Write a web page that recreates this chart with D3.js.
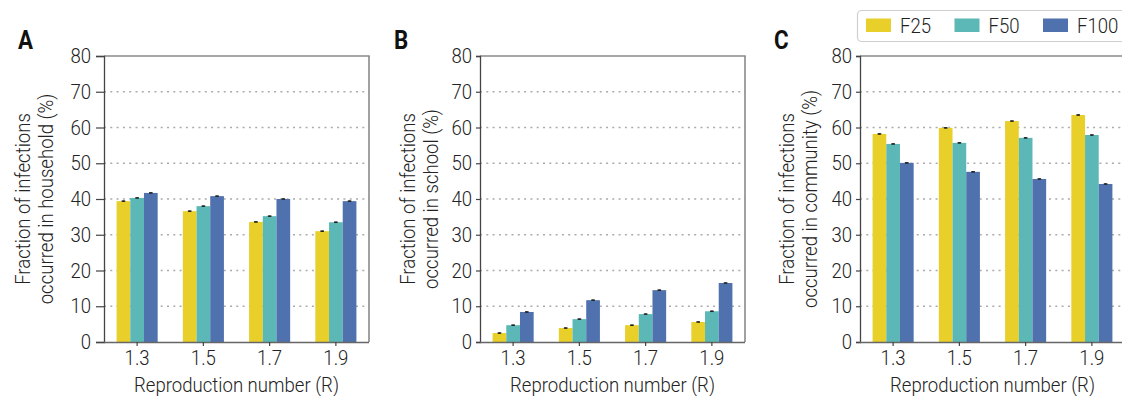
<!DOCTYPE html>
<html>
<head>
<meta charset="utf-8">
<script src="https://cdn.jsdelivr.net/npm/d3@7/dist/d3.min.js"></script>
<style>
  html, body { margin: 0; padding: 0; background: #fff; }
  svg { display: block; }
  text { font-family: Roboto, "Liberation Sans Narrow", sans-serif; font-weight: 300; fill: #222; }
  .panel-letter { font-weight: 700; font-size: 26px; fill: #111; }
  /* narrow the glyphs horizontally for a condensed look */
  .y-ticks .tick text { transform-box: fill-box; transform-origin: right center; transform: scaleX(0.885); }
  .x-ticks .tick text { transform-box: fill-box; transform-origin: center; transform: scaleX(0.885); }
</style>
</head>
<body>
<svg id="chart" width="1122" height="396"></svg>
<script>
// Reproduction numbers on the x axis and the three scenarios
const categories = ["1.3", "1.5", "1.7", "1.9"];
const seriesNames = ["F25", "F50", "F100"];
const yTicks = [0, 10, 20, 30, 40, 50, 60, 70, 80];

// Share of infections by setting (%), one array per scenario
const householdF25 = [39.4, 36.6, 33.6, 31.0];
const householdF50 = [40.3, 38.0, 35.2, 33.5];
const householdF100 = [41.7, 40.8, 40.0, 39.4];

const schoolF25 = [2.5, 3.9, 4.7, 5.6];
const schoolF50 = [4.7, 6.4, 7.8, 8.6];
const schoolF100 = [8.4, 11.7, 14.5, 16.5];

const communityF25 = [58.2, 59.9, 61.8, 63.5];
const communityF50 = [55.4, 55.7, 57.1, 57.9];
const communityF100 = [50.1, 47.6, 45.6, 44.2];

// Half-width of the error bars (%)
const errorHalf = [0.15, 0.15, 0.15];

const colors = { F25: "#E9CF2A", F50: "#5CB8B6", F100: "#4F71AD" };

const squeeze = 0.885;   // horizontal glyph scale
const fontPx = "21px";

const panels = [
  { letter: "A", setting: "household", series: [householdF25, householdF50, householdF100],
    left: 104, tickSize: 8, tickPad: 5, titleOffset: 51 },
  { letter: "B", setting: "school", series: [schoolF25, schoolF50, schoolF100],
    left: 480, tickSize: 4, tickPad: 4, titleOffset: 42 },
  { letter: "C", setting: "community", series: [communityF25, communityF50, communityF100],
    left: 860, tickSize: 4, tickPad: 4, titleOffset: 43 }
];

const svg = d3.select("#chart");
const plotTop = 56, plotBottom = 342, plotW = 265;

const y = d3.scaleLinear().domain([0, 80]).range([plotBottom, plotTop]);

panels.forEach(p => {
  const g = svg.append("g");
  const x0 = d3.scaleBand().domain(categories)
    .range([p.left, p.left + plotW]).paddingInner(0.38).paddingOuter(0.19);
  const x1 = d3.scaleBand().domain(seriesNames).range([0, x0.bandwidth()]);

  // dotted horizontal grid
  g.append("g").selectAll("line")
    .data(yTicks.filter(t => t > 0 && t < 80))
    .join("line")
    .attr("x1", p.left).attr("x2", p.left + plotW)
    .attr("y1", d => y(d)).attr("y2", d => y(d))
    .attr("stroke", "#ababab").attr("stroke-width", 1.4)
    .attr("stroke-dasharray", "2,4.3");

  // bars
  const rows = categories.map((c, i) => ({
    cat: c,
    vals: seriesNames.map((s, k) => ({ key: s, value: p.series[k][i], err: errorHalf[k] }))
  }));
  const grp = g.append("g").selectAll("g").data(rows).join("g")
    .attr("transform", d => `translate(${x0(d.cat)},0)`);
  grp.selectAll("rect").data(d => d.vals).join("rect")
    .attr("x", d => x1(d.key)).attr("width", x1.bandwidth())
    .attr("y", d => y(d.value)).attr("height", d => y(0) - y(d.value))
    .attr("fill", d => colors[d.key]);

  // error bars
  const eb = grp.selectAll("g.err").data(d => d.vals).join("g").attr("class", "err");
  eb.append("line")
    .attr("x1", d => x1(d.key) + x1.bandwidth() / 2).attr("x2", d => x1(d.key) + x1.bandwidth() / 2)
    .attr("y1", d => y(d.value - d.err)).attr("y2", d => y(d.value + d.err))
    .attr("stroke", "#222").attr("stroke-width", 1);
  eb.append("line")
    .attr("x1", d => x1(d.key) + x1.bandwidth() / 2 - 1.8).attr("x2", d => x1(d.key) + x1.bandwidth() / 2 + 1.8)
    .attr("y1", d => y(d.value)).attr("y2", d => y(d.value))
    .attr("stroke", "#222").attr("stroke-width", 1.6);

  // frame
  g.append("line").attr("x1", p.left).attr("x2", p.left + plotW + 0.8).attr("y1", plotTop).attr("y2", plotTop)
    .attr("stroke", "#8a8a8a").attr("stroke-width", 1.6);
  g.append("line").attr("x1", p.left + plotW).attr("x2", p.left + plotW).attr("y1", plotTop).attr("y2", plotBottom)
    .attr("stroke", "#8a8a8a").attr("stroke-width", 1.6);

  // y axis
  const ya = g.append("g").attr("class", "y-ticks").attr("transform", `translate(${p.left},0)`)
    .call(d3.axisLeft(y).tickValues(yTicks).tickSize(p.tickSize).tickPadding(p.tickPad));
  ya.select(".domain").attr("stroke", "#444").attr("stroke-width", 1.3);
  ya.selectAll(".tick line").attr("stroke", "#444").attr("stroke-width", 1.2);
  ya.selectAll(".tick text").style("font-size", fontPx).attr("fill", "#222");

  // x axis
  const xa = g.append("g").attr("class", "x-ticks").attr("transform", `translate(0,${plotBottom})`)
    .call(d3.axisBottom(x0).tickSize(4).tickPadding(4).tickSizeOuter(0));
  xa.select(".domain").attr("stroke", "#666").attr("stroke-width", 1.5)
    .attr("d", `M${p.left},0.5H${p.left + plotW}`);
  xa.selectAll(".tick line").attr("stroke", "#444").attr("stroke-width", 1.2);
  xa.selectAll(".tick text").style("font-size", fontPx).attr("fill", "#222");

  // axis titles
  g.append("text")
    .attr("transform", `translate(${p.left + plotW / 2},392) scale(${squeeze},1)`)
    .attr("text-anchor", "middle").style("font-size", fontPx)
    .text("Reproduction number (R)");

  const yt = g.append("text")
    .attr("transform", `translate(${p.left - p.titleOffset},${(plotTop + plotBottom) / 2}) rotate(-90) scale(${squeeze},1)`)
    .attr("text-anchor", "middle").style("font-size", fontPx);
  yt.append("tspan").attr("x", 0).attr("dy", "-23").text("Fraction of infections");
  yt.append("tspan").attr("x", 0).attr("dy", "23").text(`occurred in ${p.setting} (%)`);

  // panel letter
  g.append("text").attr("class", "panel-letter")
    .attr("transform", `translate(${p.left - 86},49) scale(0.86,1)`).text(p.letter);
});

// legend
const legend = svg.append("g");
legend.append("rect")
  .attr("x", 857.5).attr("y", 10.5).attr("width", 290).attr("height", 31).attr("rx", 4)
  .attr("fill", "#fff").attr("stroke", "#cfcfcf").attr("stroke-width", 1.2);
const legendX = d3.scalePoint().domain(seriesNames).range([866, 1043]);
const li = legend.selectAll("g.item").data(seriesNames).join("g").attr("class", "item")
  .attr("transform", d => `translate(${legendX(d)},0)`);
li.append("rect").attr("x", 0).attr("y", 18.5).attr("width", 25).attr("height", 13.5)
  .attr("fill", d => colors[d]);
li.append("text").attr("transform", `translate(34,33) scale(${squeeze},1)`)
  .style("font-size", fontPx).text(d => d);
</script>
</body>
</html>
